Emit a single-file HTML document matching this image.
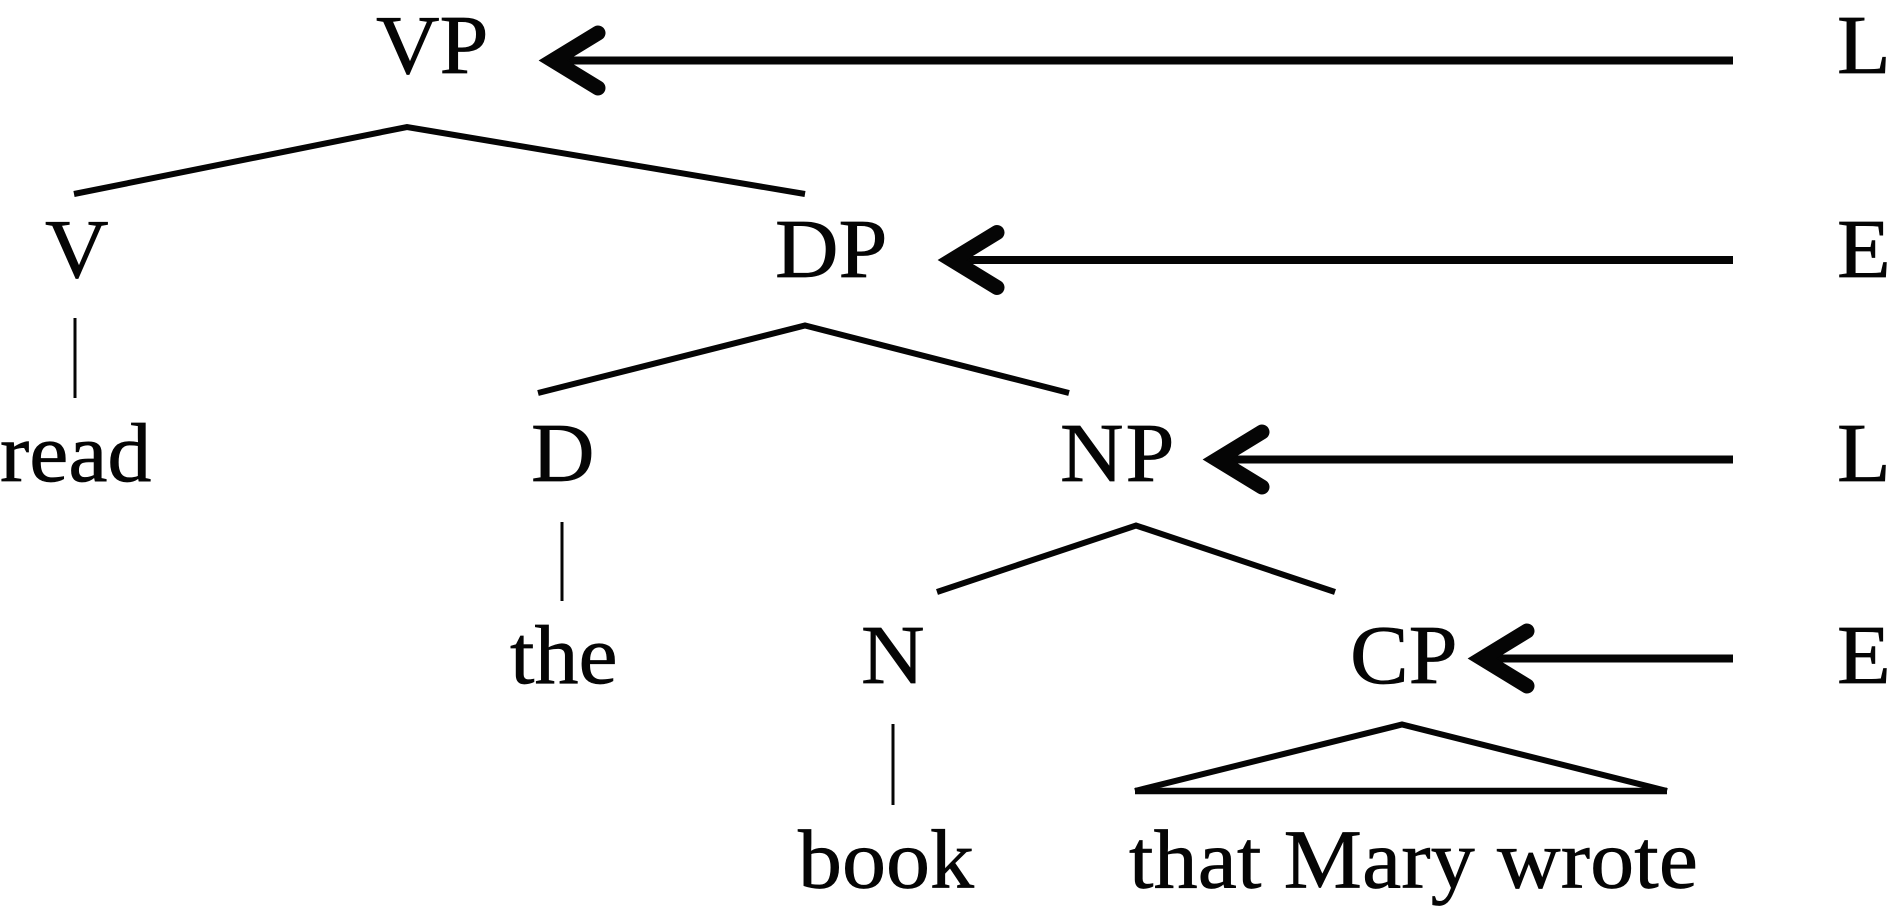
<!DOCTYPE html>
<html>
<head>
<meta charset="utf-8">
<style>
html,body{margin:0;padding:0;background:#fff;width:1890px;height:915px;overflow:hidden}
svg{display:block}
text{font-family:"Liberation Serif",serif;font-size:88px;fill:#050505;stroke:#050505;stroke-width:.7px}
</style>
</head>
<body>
<svg width="1890" height="915" viewBox="0 0 1890 915" xmlns="http://www.w3.org/2000/svg">
<g>
<text transform="translate(376,73) scale(1,.955)">VP</text>
<text transform="translate(45,277) scale(1,.955)">V</text>
<text transform="translate(775,277) scale(1,.955)">DP</text>
<text transform="translate(0,481) scale(1,.955)">read</text>
<text transform="translate(531,481) scale(1,.955)">D</text>
<text transform="translate(1060,481) scale(1,.955)" style="letter-spacing:2px">NP</text>
<text transform="translate(510,683) scale(1,.955)">the</text>
<text transform="translate(861,683) scale(1,.955)">N</text>
<text transform="translate(1350,683) scale(1,.955)">CP</text>
<text transform="translate(798,887.5) scale(1,.955)">book</text>
<text transform="translate(1129,887.5) scale(1,.955)" style="letter-spacing:.15px">that Mary wrote</text>
<text transform="translate(1837,73) scale(1,.955)">L</text>
<text transform="translate(1837,277) scale(1,.955)">E</text>
<text transform="translate(1837,481) scale(1,.955)">L</text>
<text transform="translate(1837,683) scale(1,.955)">E</text>
</g>
<g fill="none" stroke="#050505" stroke-width="6" stroke-linejoin="miter">
<polyline points="74,194 407,127 805,194"/>
<polyline points="538,393 805,325.5 1069,393"/>
<polyline points="937,592 1136,525.5 1335,592"/>
<polyline points="1135,791 1402,724.5 1667,791"/>
<line x1="1135" y1="791" x2="1667" y2="791" stroke-width="6.5"/>
<line x1="75" y1="318" x2="75" y2="398" stroke-width="3"/>
<line x1="562" y1="522" x2="562" y2="601" stroke-width="3"/>
<line x1="893" y1="724" x2="893" y2="805" stroke-width="3"/>
</g>
<g fill="none" stroke="#050505" stroke-width="8">
<line x1="1733" y1="60.5" x2="560" y2="60.5"/>
<line x1="1733" y1="260" x2="958" y2="260"/>
<line x1="1733" y1="459.5" x2="1223" y2="459.5"/>
<line x1="1733" y1="658.5" x2="1488" y2="658.5"/>
</g>
<g fill="none" stroke="#050505" stroke-width="15" stroke-linecap="round" stroke-linejoin="miter" stroke-miterlimit="10">
<polyline points="598,33 553,60.5 598,88"/>
<polyline points="997,232.5 952,260 997,287.5"/>
<polyline points="1262,432 1217,459.5 1262,487"/>
<polyline points="1527,631 1482,658.5 1527,686"/>
</g>
</svg>
</body>
</html>
